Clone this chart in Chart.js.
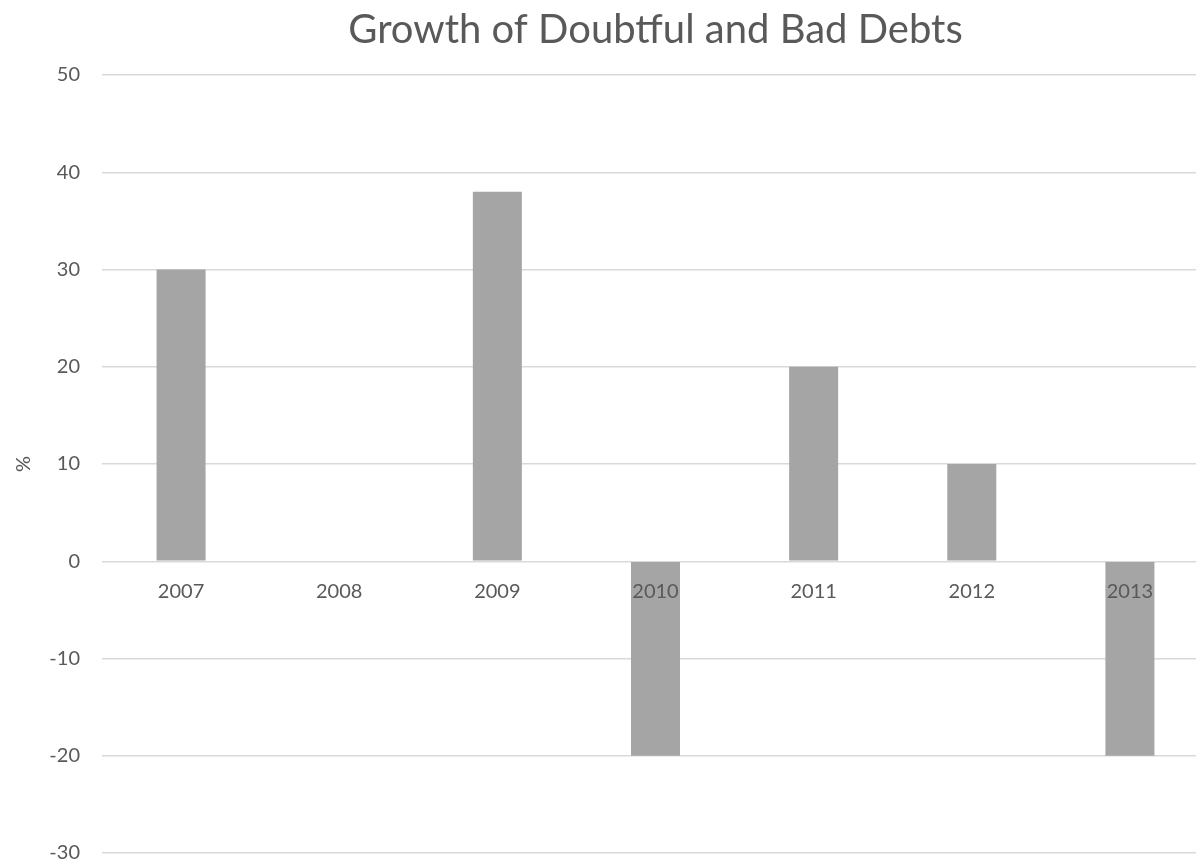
<!DOCTYPE html>
<html>
<head>
<meta charset="utf-8">
<script src="https://cdn.jsdelivr.net/npm/chart.js@4.4.1/dist/chart.umd.min.js"></script>
<style>
    html, body {
        margin: 0;
        padding: 0;
        background: #ffffff;
        overflow: hidden;
    }
    #wrap {
        width: 1212px;
        height: 864px;
    }
</style>
</head>
<body>
<div id="wrap"><canvas id="grafDluhy"></canvas></div>
<script>
// data z grafu
const roky = ['2007', '2008', '2009', '2010', '2011', '2012', '2013'];
const rustDluhu = [30, 0, 38, -20, 20, 10, -20];
const osaY = { min: -30, max: 50, krok: 10 };

const sedaText = '#595959';
const pismo = "Lato, 'Open Sans', sans-serif";

const ctx = document.getElementById('grafDluhy').getContext('2d');

new Chart(ctx, {
    type: 'bar',
    data: {
        labels: roky,
        datasets: [{
            label: 'Growth',
            data: rustDluhu,
            backgroundColor: '#a5a5a5',
            borderWidth: 0,
            categoryPercentage: 1,
            barPercentage: 0.31
        }]
    },
    options: {
        responsive: true,
        maintainAspectRatio: false,
        animation: false,
        layout: {
            padding: {
                top: 6,
                left: 12,
                right: 3,
                bottom: 11
            }
        },
        plugins: {
            legend: {
                display: false
            },
            tooltip: {
                enabled: false
            },
            title: {
                display: true,
                fullSize: false,
                text: 'Growth of Doubtful and Bad Debts',
                color: sedaText,
                font: {
                    family: pismo,
                    size: 40,
                    weight: 'normal'
                },
                padding: { top: 0, bottom: 21 }
            }
        },
        scales: {
            x: {
                position: { y: 0 },
                afterFit: (osa) => { osa.height = 0; },
                grid: {
                    display: false
                },
                border: {
                    display: false
                },
                ticks: {
                    z: 1,
                    color: sedaText,
                    padding: 10,
                    maxRotation: 0,
                    font: {
                        family: pismo,
                        size: 20
                    }
                }
            },
            y: {
                min: osaY.min,
                max: osaY.max,
                afterFit: (osa) => {
                    osa.width = 90;
                    osa.paddingTop = 11;
                    osa.paddingBottom = 11;   // jinak se pricita padding popisku
                },
                ticks: {
                    stepSize: osaY.krok,
                    color: sedaText,
                    padding: 22,
                    font: {
                        family: pismo,
                        size: 20
                    }
                },
                grid: {
                    color: '#d9d9d9',
                    lineWidth: 1.5,
                    drawTicks: false
                },
                border: {
                    display: false
                },
                title: {
                    display: true,
                    text: '%',
                    color: sedaText,
                    padding: { top: 0, bottom: 0 },
                    font: {
                        family: pismo,
                        size: 20
                    }
                }
            }
        }
    }
});
</script>
</body>
</html>
